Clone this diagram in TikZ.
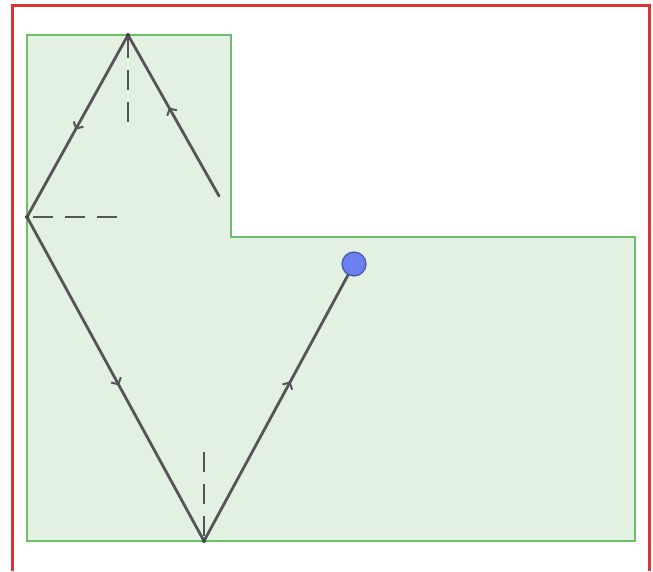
\documentclass[tikz,border=0pt]{standalone}
\usetikzlibrary{arrows.meta,decorations.markings}
\definecolor{regfill}{HTML}{E3F1E3}
\definecolor{regline}{HTML}{6CBF6C}
\definecolor{raycol}{HTML}{555555}
\definecolor{ballfill}{HTML}{6A80F0}
\definecolor{ballline}{HTML}{4455AA}
\definecolor{framered}{HTML}{DD3333}
\tikzset{
  region/.style={fill=regfill, draw=regline, line width=2.2pt, line join=miter},
  ray/.style={draw=raycol, line width=2.8pt, line cap=round, postaction={decorate},
    decoration={markings, mark=at position #1 with {\arrow{Straight Barb[length=5pt,width=11pt,line width=2pt]}}}},
  ray/.default=0.5,
  normal/.style={draw=raycol, line width=2.6pt, dash pattern=on 20pt off 12pt},
  ball/.style={circle, fill=ballfill, draw=ballline, line width=1.2pt, minimum size=24pt, inner sep=0pt},
  frame/.style={draw=framered, line width=3pt},
  pt/.style={circle, fill=raycol!80!black, inner sep=0pt, minimum size=4pt}
}
\begin{document}
\begin{tikzpicture}[x=1pt,y=-1pt]
\useasboundingbox (0,0) rectangle (653,571);
\draw[frame] (12,571) -- (12,5.5) -- (649,5.5) -- (649,571);
\draw[region] (27,35) -- (231,35) -- (231,237) -- (635,237) -- (635,541) -- (27,541) -- cycle;
\coordinate (s) at (219,196);
\coordinate (t) at (128,35);
\coordinate (l) at (27,217);
\coordinate (b) at (204,541);
\coordinate (tn) at (128,122);
\coordinate (ln) at (117,217);
\coordinate (bn) at (204,452);
\node[ball] (ball) at (354,264) {};
\draw[normal] (tn) -- (t);
\draw[normal] (ln) -- (l);
\draw[normal] (bn) -- (b);
\draw[ray=0.55] (s) -- (t);
\draw[ray=0.52] (t) -- (l);
\draw[ray=0.52] (l) -- (b);
\draw[ray=0.6] (b) -- (ball);
\node[pt] (tp) at (t) {};
\node[pt] (lp) at (l) {};
\node[pt] (bp) at (b) {};
\end{tikzpicture}
\end{document}
